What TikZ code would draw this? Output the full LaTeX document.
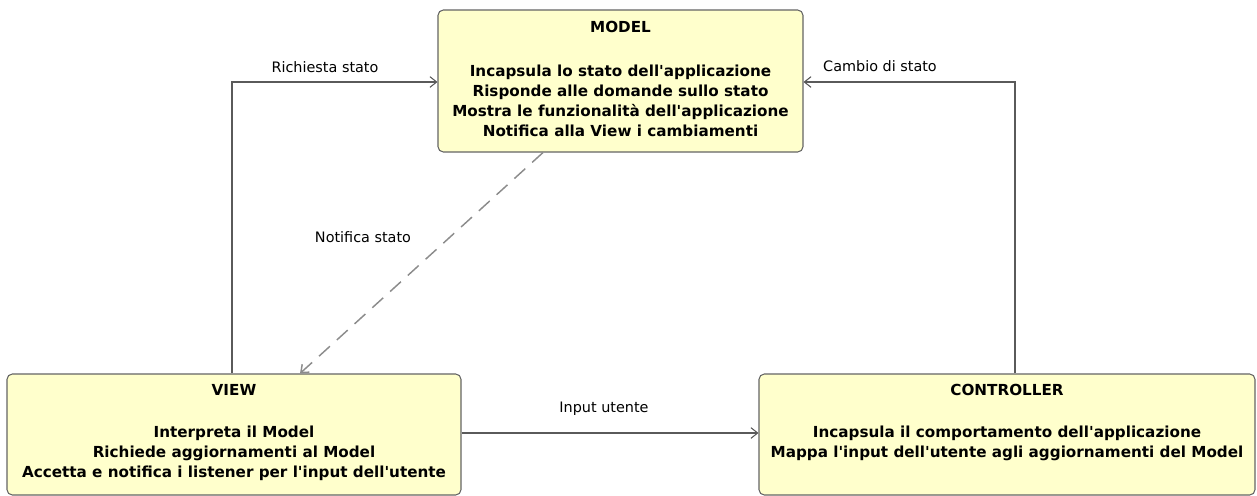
\documentclass[tikz,border=0pt]{standalone}
\usepackage{fontspec}
\setmainfont{DejaVu Sans}
\usetikzlibrary{arrows.meta}
\definecolor{boxfill}{RGB}{255,255,204}
\definecolor{boxline}{RGB}{100,100,100}
\definecolor{lineg}{RGB}{90,90,90}
\definecolor{dashg}{RGB}{140,140,140}
\newcommand{\ap}{\textquotesingle}
\tikzset{
  box/.style={draw=boxline, fill=boxfill, rounded corners=4pt, line width=0.8pt, inner sep=0pt},
  boxtxt/.style={font=\fontsize{11.4}{15}\selectfont\bfseries, align=center, inner sep=0pt},
  lbl/.style={font=\fontsize{10.8}{13}\selectfont, inner sep=0pt},
  arr/.style={draw=lineg, line width=0.8pt, -{Straight Barb[length=5pt,width=8pt]}},
  dasharr/.style={draw=dashg, line width=1.1pt, dash pattern=on 11pt off 7pt, -{Straight Barb[length=5pt,width=8pt]}}
}
\begin{document}
\begin{tikzpicture}[x=0.75pt,y=-0.75pt]
\useasboundingbox (0,0) rectangle (1257,496);
% boxes
\node[box, minimum width=273.75pt, minimum height=106.5pt] (model) at (620.5,81) {};
\node[box, minimum width=340.5pt, minimum height=90.75pt] (view) at (234,434.5) {};
\node[box, minimum width=372pt, minimum height=90.75pt] (ctrl) at (1007,434.5) {};
% texts
\node[boxtxt] (mt) at (620.5,27) {MODEL};
\node[boxtxt] (mb) at (620.5,101) {Incapsula lo stato dell\ap applicazione\\Risponde alle domande sullo stato\\Mostra le funzionalità dell\ap applicazione\\Notifica alla View i cambiamenti};
\node[boxtxt] (vt) at (234,390) {VIEW};
\node[boxtxt] (vb) at (234,453) {Interpreta il Model\\Richiede aggiornamenti al Model\\Accetta e notifica i listener per l\ap input dell\ap utente};
\node[boxtxt] (ct) at (1007,390) {CONTROLLER};
\node[boxtxt] (cb) at (1007,443) {Incapsula il comportamento dell\ap applicazione\\Mappa l\ap input dell\ap utente agli aggiornamenti del Model};
% connector coordinates
\coordinate (rs) at (232,82);
\coordinate (cs) at (1015,82);
\coordinate (ns) at (543,0);
\coordinate (ne) at (300,0);
\coordinate (iu) at (0,433);
% connectors
\draw[arr] (rs |- view.north) |- (model.west |- rs);
\draw[arr] (cs |- ctrl.north) |- (model.east |- cs);
\draw[dasharr] (ns |- model.south) -- (ne |- view.north);
\draw[arr] (view.east |- iu) -- (ctrl.west |- iu);
% labels
\node[lbl] (l1) at (325,67) {Richiesta stato};
\node[lbl] (l2) at (880,66) {Cambio di stato};
\node[lbl] (l3) at (363,237) {Notifica stato};
\node[lbl] (l4) at (604,409) {Input utente};
\end{tikzpicture}
\end{document}
